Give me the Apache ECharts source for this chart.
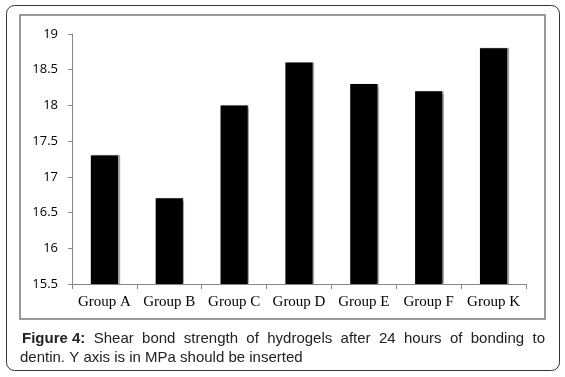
<!DOCTYPE html>
<html>
<head>
<meta charset="utf-8">
<script src="https://cdn.jsdelivr.net/npm/echarts@6/dist/echarts.min.js"></script>
<style>
  html, body { margin: 0; padding: 0; background: #fff; }
  #chart { width: 565px; height: 377px; }
</style>
</head>
<body>
<div id="chart"></div>
<script>
// data
var groups = ['Group A', 'Group B', 'Group C', 'Group D', 'Group E', 'Group F', 'Group K'];
var strength = [17.3, 16.7, 18.0, 18.6, 18.3, 18.2, 18.8];
var yMin = 15.5, yMax = 19, yStep = 0.5;

var captionLine1 = ['Figure 4:', 'Shear', 'bond', 'strength', 'of', 'hydrogels', 'after', '24', 'hours', 'of', 'bonding', 'to'];
var captionLine2 = 'dentin. Y axis is in MPa should be inserted';

var chart = echarts.init(document.getElementById('chart'));

// justified first caption line: spread words between left and right edge
var ctx = document.createElement('canvas').getContext('2d');
function wordWidth(w, bold) {
    ctx.font = (bold ? 'bold ' : '') + '15px "Liberation Sans"';
    return ctx.measureText(w).width;
}
var capLeft = 22, capRight = 545;
var total = 0;
captionLine1.forEach(function (w, i) { total += wordWidth(w, i === 0); });
var gap = (capRight - capLeft - total) / (captionLine1.length - 1);
var words = [];
var cx = capLeft;
captionLine1.forEach(function (w, i) {
    words.push({
        type: 'text', left: cx, top: 331,
        style: { text: w, font: (i === 0 ? 'bold ' : '') + '15px "Liberation Sans"', fill: '#222' }
    });
    cx += wordWidth(w, i === 0) + gap;
});

chart.setOption({
    animation: false,
    backgroundColor: '#fff',
    grid: { left: 72, right: 39, top: 34, bottom: 93 },
    xAxis: {
        type: 'category',
        data: groups,
        axisLine: { lineStyle: { color: '#888' } },
        axisTick: { show: true, length: 5, lineStyle: { color: '#888' } },
        axisLabel: { color: '#000', fontFamily: 'Liberation Serif', fontSize: 15, margin: 11, interval: 0, hideOverlap: false }
    },
    yAxis: {
        type: 'value',
        min: yMin, max: yMax, interval: yStep,
        axisLine: { show: true, lineStyle: { color: '#888' } },
        axisTick: { show: true, length: 4, lineStyle: { color: '#888' } },
        splitLine: { show: false },
        axisLabel: { color: '#000', fontFamily: 'Open Sans', fontSize: 13, margin: 14 }
    },
    series: [{
        type: 'bar',
        data: strength,
        barWidth: '42%',
        itemStyle: { color: '#000', shadowColor: 'rgba(0,0,0,0.35)', shadowOffsetX: 1.5, shadowBlur: 1 }
    }],
    graphic: [
        {
            type: 'rect', shape: { x: 6.5, y: 5.5, width: 553, height: 365, r: 8 },
            style: { fill: 'none', stroke: '#333', lineWidth: 1 }, silent: true
        },
        {
            type: 'rect', shape: { x: 20, y: 15, width: 525, height: 304 },
            style: { fill: 'none', stroke: '#999', lineWidth: 2 }, silent: true
        },
        {
            type: 'text', left: 20, top: 350,
            style: { text: captionLine2, font: '15px "Liberation Sans"', fill: '#222' }
        }
    ].concat(words)
});
</script>
</body>
</html>
